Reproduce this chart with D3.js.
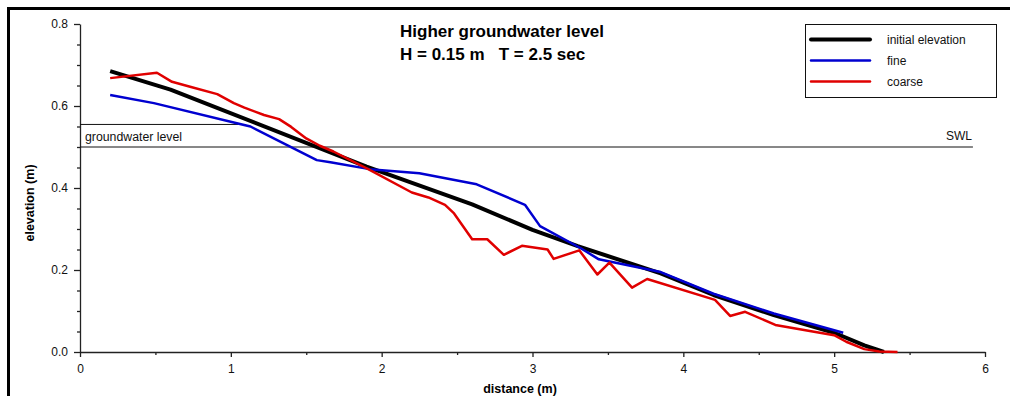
<!DOCTYPE html>
<html>
<head>
<meta charset="utf-8">
<script src="https://cdn.jsdelivr.net/npm/d3@7"></script>
<style>
    body { margin: 0; background: #fff; }
    svg { display: block; font-family: "Liberation Sans", Arial, sans-serif; }
</style>
</head>
<body>
<div id="chart"></div>
<script>

// profile data, [distance (m), elevation (m)]
var initialElevation = [
    [0.2, 0.685], [0.6, 0.640], [1.9, 0.452], [2.6, 0.360], [3.0, 0.298],
    [3.3, 0.258], [3.85, 0.192], [4.2, 0.139], [4.6, 0.090], [5.0, 0.047],
    [5.2, 0.016], [5.33, 0.0]
];

var fine = [
    [0.2, 0.627], [0.49, 0.607], [1.04, 0.558], [1.13, 0.550], [1.35, 0.509],
    [1.57, 0.468], [1.66, 0.463], [1.92, 0.446], [2.25, 0.436], [2.63, 0.409],
    [2.95, 0.359], [3.05, 0.307], [3.32, 0.253], [3.44, 0.226], [3.52, 0.220],
    [3.85, 0.195], [4.2, 0.142], [4.6, 0.094], [5.06, 0.047]
];

var coarse = [
    [0.2, 0.668], [0.51, 0.681], [0.61, 0.659], [0.73, 0.647], [0.91, 0.629],
    [1.02, 0.607], [1.09, 0.596], [1.22, 0.578], [1.32, 0.568], [1.40, 0.549],
    [1.50, 0.521], [1.59, 0.503], [1.68, 0.489], [1.92, 0.444], [2.2, 0.389],
    [2.31, 0.377], [2.42, 0.359], [2.48, 0.338], [2.6, 0.275], [2.7, 0.275],
    [2.81, 0.237], [2.93, 0.259], [3.1, 0.250], [3.14, 0.227], [3.31, 0.248],
    [3.43, 0.189], [3.51, 0.218], [3.66, 0.157], [3.76, 0.178], [4.21, 0.127],
    [4.31, 0.088], [4.41, 0.098], [4.61, 0.066], [5.0, 0.041], [5.08, 0.025],
    [5.2, 0.007], [5.3, 0.001], [5.42, 0.0]
];

var swl = [[0, 0.5], [5.92, 0.5]];
var groundwater = [[0, 0.555], [1.05, 0.555]];

var xTicks = [0, 1, 2, 3, 4, 5, 6];
var yTicks = [0.0, 0.2, 0.4, 0.6, 0.8];

var legendNames = ["initial elevation", "fine", "coarse"];

var width = 1010;
var height = 396;

var margin = { left: 80, right: 25, top: 24, bottom: 44 };

var svg = d3.select("#chart").append("svg")
    .attr("width", width)
    .attr("height", height);

// outer frame, only top and left edge are inside the window
svg.append("rect")
    .attr("x", 8.5)
    .attr("y", 8.5)
    .attr("width", width + 20)
    .attr("height", height + 20)
    .attr("fill", "none")
    .attr("stroke", "#000")
    .attr("stroke-width", 3);

var x = d3.scaleLinear().domain([0, 6]).range([margin.left, width - margin.right]);
var y = d3.scaleLinear().domain([0, 0.8]).range([height - margin.bottom, margin.top]);

// minor ticks first, then the major ones with labels
svg.append("g")
    .attr("transform", "translate(0," + y(0) + ")")
    .call(d3.axisBottom(x).tickValues(d3.range(0.5, 6, 1)).tickSize(3).tickFormat(""))
    .call(function (g) { g.select(".domain").remove(); })
    .selectAll("line").attr("stroke", "#222").attr("stroke-width", 1.3);

svg.append("g")
    .attr("transform", "translate(" + x(0) + ",0)")
    .call(d3.axisLeft(y).tickValues(d3.range(1, 16).filter(function (k) { return k % 4 != 0; })
        .map(function (k) { return k * 0.05; })).tickSize(3).tickFormat(""))
    .call(function (g) { g.select(".domain").remove(); })
    .selectAll("line").attr("stroke", "#222").attr("stroke-width", 1.3);

var xAxis = svg.append("g")
    .attr("transform", "translate(0," + y(0) + ")")
    .call(d3.axisBottom(x).tickValues(xTicks).tickSize(5).tickPadding(7).tickSizeOuter(0).tickFormat(d3.format("d")));

var yAxis = svg.append("g")
    .attr("transform", "translate(" + x(0) + ",0)")
    .call(d3.axisLeft(y).tickValues(yTicks).tickSize(6).tickPadding(6).tickSizeOuter(0).tickFormat(d3.format(".1f")));

[xAxis, yAxis].forEach(function (a) {
    a.select(".domain").attr("stroke", "#222").attr("stroke-width", 1.3);
    a.selectAll("line").attr("stroke", "#222").attr("stroke-width", 1.3);
    a.selectAll("text").attr("fill", "#111").style("font-size", "12px")
        .style("font-family", "'Liberation Sans', Arial, sans-serif");
});

// reference levels
var line = d3.line()
    .x(function (d) { return x(d[0]); })
    .y(function (d) { return y(d[1]); });

svg.append("path").attr("d", line(swl))
    .attr("fill", "none").attr("stroke", "#111").attr("stroke-width", 1);
svg.append("path").attr("d", line(groundwater))
    .attr("fill", "none").attr("stroke", "#111").attr("stroke-width", 1);

svg.append("text")
    .attr("x", x(0) + 5)
    .attr("y", y(0.5) - 6)
    .style("font-size", "12.3px")
    .attr("fill", "#111")
    .text("groundwater level");

svg.append("text")
    .attr("x", x(5.92) - 1)
    .attr("y", y(0.5) - 7)
    .attr("text-anchor", "end")
    .style("font-size", "12px")
    .attr("fill", "#111")
    .text("SWL");

// profiles
var series = [
    { name: legendNames[0], data: initialElevation, color: "#000", width: 4 },
    { name: legendNames[1], data: fine, color: "#0000d0", width: 2.5 },
    { name: legendNames[2], data: coarse, color: "#e00000", width: 2.5 }
];

svg.selectAll("path.profile")
    .data(series)
    .enter().append("path")
    .attr("class", "profile")
    .attr("d", function (d) { return line(d.data); })
    .attr("fill", "none")
    .attr("stroke", function (d) { return d.color; })
    .attr("stroke-width", function (d) { return d.width; })
    .attr("stroke-linejoin", "round");

// title
var title = svg.append("g").style("font-weight", "bold").style("font-size", "17px");
title.append("text").attr("x", 400).attr("y", 37).text("Higher groundwater level");
title.append("text").attr("x", 400).attr("y", 60).attr("xml:space", "preserve")
    .style("white-space", "pre")
    .text("H = 0.15 m   T = 2.5 sec");

// axis titles
svg.append("text")
    .attr("x", 520)
    .attr("y", 393)
    .attr("text-anchor", "middle")
    .style("font-weight", "bold")
    .style("font-size", "12.5px")
    .text("distance (m)");

svg.append("text")
    .attr("transform", "translate(34,203) rotate(-90)")
    .attr("text-anchor", "middle")
    .style("font-weight", "bold")
    .style("font-size", "12.5px")
    .text("elevation (m)");

// legend
var legend = svg.append("g").attr("transform", "translate(805,24)");
legend.append("rect")
    .attr("x", 0.5).attr("y", 0.5)
    .attr("width", 191).attr("height", 73)
    .attr("fill", "#fff").attr("stroke", "#111").attr("stroke-width", 1);

var items = legend.selectAll("g.item")
    .data(series)
    .enter().append("g")
    .attr("class", "item")
    .attr("transform", function (d, i) { return "translate(0," + (15.5 + i * 21) + ")"; });

items.append("line")
    .attr("x1", 6).attr("x2", 65)
    .attr("stroke", function (d) { return d.color; })
    .attr("stroke-width", function (d) { return d.width; })
    .attr("stroke-linecap", "round");

items.append("text")
    .attr("x", 82)
    .attr("y", 4.5)
    .style("font-size", "12px")
    .attr("fill", "#111")
    .text(function (d) { return d.name; });

</script>
</body>
</html>
